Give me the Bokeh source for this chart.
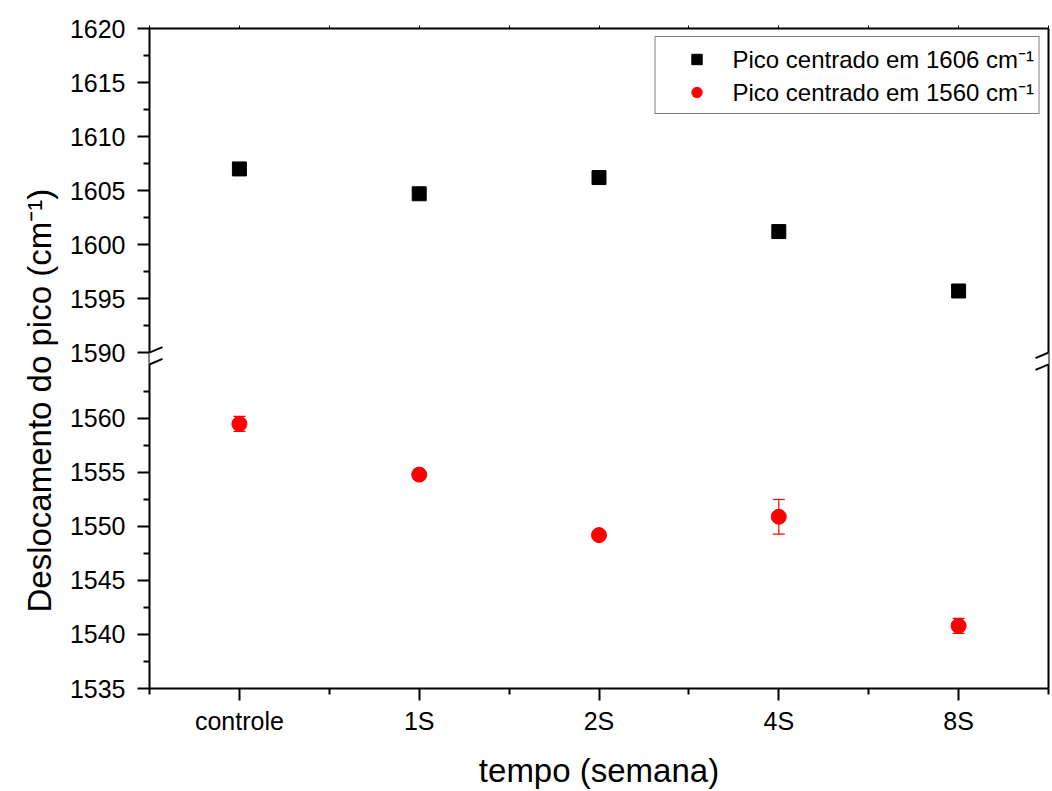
from bokeh.plotting import figure
from bokeh.models import (FixedTicker, CustomJSTickFormatter, LinearAxis, Whisker, TeeHead,
                          ColumnDataSource, Legend, LegendItem, Range1d, Arrow, Title)
from bokeh.embed import file_html
from bokeh.resources import INLINE

# ---- data ----
categories = ["controle", "1S", "2S", "4S", "8S"]
pico_1606 = [1607.0, 1604.7, 1606.2, 1601.2, 1595.7]
pico_1560 = [1559.5, 1554.8, 1549.2, 1550.9, 1540.8]
erro_1560 = [0.7, 0.35, 0.3, 1.6, 0.7]

lower_ticks = [1535, 1540, 1545, 1550, 1555, 1560]
upper_ticks = [1590, 1595, 1600, 1605, 1610, 1615, 1620]
lower_minor = [1537.5, 1542.5, 1547.5, 1552.5, 1557.5, 1562.5]
upper_minor = [1592.5, 1597.5, 1602.5, 1607.5, 1612.5, 1617.5]

GAP = 23.9          # shift applied to the upper segment of the broken axis
BRK_LO = 1565.0     # top of lower segment (plot coordinate)
BRK_HI = 1590 - GAP # bottom of upper segment (plot coordinate)

FONT = "Liberation Sans"

xs = list(range(len(categories)))
src_up = ColumnDataSource(dict(x=xs, y=[v - GAP for v in pico_1606]))
src_lo = ColumnDataSource(dict(x=xs, y=pico_1560,
                               upper=[v + e for v, e in zip(pico_1560, erro_1560)],
                               lower=[v - e for v, e in zip(pico_1560, erro_1560)]))

p = figure(width=1050, height=791, output_backend="svg", toolbar_location=None,
           x_range=Range1d(-0.5, len(categories) - 0.5),
           y_range=Range1d(lower_ticks[0], upper_ticks[-1] - GAP),
           min_border_left=149, min_border_right=2, min_border_top=28, min_border_bottom=103)
p.outline_line_color = None
p.xgrid.visible = False
p.ygrid.visible = False

yticker = FixedTicker(ticks=lower_ticks + [t - GAP for t in upper_ticks],
                      minor_ticks=lower_minor + [t - GAP for t in upper_minor])
yfmt = CustomJSTickFormatter(args=dict(gap=GAP, brk=(BRK_LO + BRK_HI) / 2),
                             code="return (tick > brk ? tick + gap : tick).toFixed(0);")
xticker = FixedTicker(ticks=xs, minor_ticks=[i - 0.5 for i in xs] + [xs[-1] + 0.5])
xfmt = CustomJSTickFormatter(args=dict(labels=categories),
                             code="const i = Math.round(tick); return (Math.abs(tick - i) < 1e-6 && labels[i] !== undefined) ? labels[i] : '';")

def style_axis(ax):
    ax.axis_line_width = 2
    ax.axis_line_color = "black"
    ax.major_tick_line_width = 2
    ax.minor_tick_line_width = 2
    ax.major_tick_in = 0
    ax.minor_tick_in = 0
    ax.major_label_text_font = FONT
    ax.major_label_text_font_size = "25px"
    ax.major_label_text_color = "black"
    ax.axis_label_text_font = FONT
    ax.axis_label_text_font_size = "33px"
    ax.axis_label_text_font_style = "normal"
    ax.axis_label_text_color = "black"

ya = p.yaxis[0]
ya.ticker = yticker
ya.formatter = yfmt
style_axis(ya)
ya.major_tick_out = 12
ya.minor_tick_out = 6
ya.major_label_standoff = 12

xa = p.xaxis[0]
xa.ticker = xticker
xa.formatter = xfmt
style_axis(xa)
xa.major_tick_out = 12
xa.minor_tick_out = 6
xa.major_label_standoff = 6
xa.axis_label = "tempo (semana)"
xa.axis_label_standoff = 14

top = LinearAxis(ticker=xticker, formatter=CustomJSTickFormatter(code="return '';"))
style_axis(top)
top.major_tick_out = 3
top.minor_tick_out = 3
top.major_tick_line_width = 1
top.minor_tick_line_width = 1
p.add_layout(top, "above")

right = LinearAxis(ticker=FixedTicker(ticks=[]), formatter=CustomJSTickFormatter(code="return '';"))
style_axis(right)
right.major_tick_out = 0
right.minor_tick_out = 0
p.add_layout(right, "right")

# y-axis title, placed as a side title so it can sit below the frame centre as in the original
p.add_layout(Title(text="Deslocamento do pico (cm⁻¹)", align="left", offset=76,
                   text_font=FONT, text_font_size="33px", text_font_style="normal",
                   text_color="black", standoff=18), "left")

# ---- data marks ----
p.add_layout(Whisker(base="x", upper="upper", lower="lower", source=src_lo, dimension="height",
                     line_color="red", line_width=1.2,
                     upper_head=TeeHead(size=12, line_color="red", line_width=1.2),
                     lower_head=TeeHead(size=12, line_color="red", line_width=1.2)))
r_up = p.scatter("x", "y", source=src_up, marker="square", size=14,
                 fill_color="black", line_color="black")
r_lo = p.scatter("x", "y", source=src_lo, marker="circle", size=15,
                 fill_color="red", line_color="red")

legend = Legend(items=[LegendItem(label="Pico centrado em 1606 cm⁻¹", renderers=[r_up]),
                       LegendItem(label="Pico centrado em 1560 cm⁻¹", renderers=[r_lo])],
                location="top_right", margin=8, padding=5, spacing=-4,
                glyph_width=72, glyph_height=26, label_height=26, label_standoff=0,
                label_text_font=FONT, label_text_font_size="24px", label_text_color="black",
                border_line_color="black", border_line_width=1, background_fill_alpha=1)
p.add_layout(legend)

# ---- axis break decorations ----
xl, xr = -0.5, len(categories) - 0.5
dx = 13 / 180.0
dy = 5.5 / 10.8
for xe in (xl, xr):
    p.add_layout(Arrow(x_start=xe, y_start=BRK_LO, x_end=xe, y_end=BRK_HI, end=None,
                       line_color="white", line_width=6, level="overlay"))
    for yc in (BRK_LO, BRK_HI):
        p.add_layout(Arrow(x_start=xe - dx, y_start=yc - dy, x_end=xe + dx, y_end=yc + dy,
                           end=None, line_color="black", line_width=2, level="overlay"))

open("out.html", "w").write(file_html(p, INLINE))
